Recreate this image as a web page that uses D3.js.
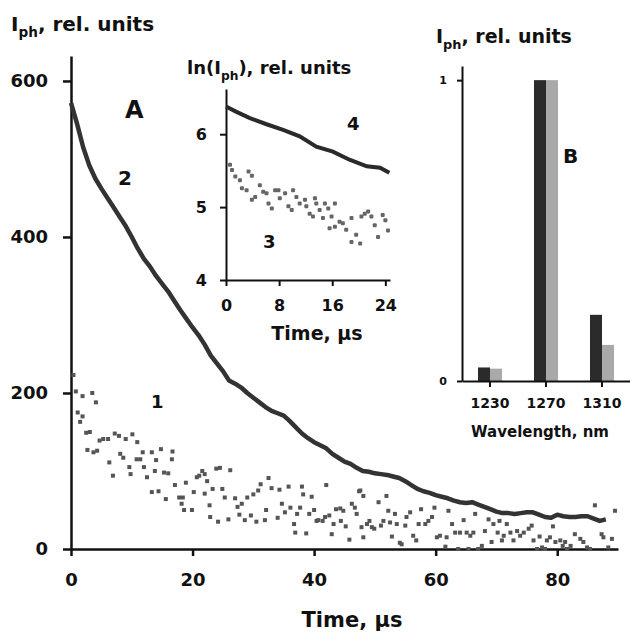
<!DOCTYPE html>
<html>
<head>
<meta charset="utf-8">
<script src="https://cdn.jsdelivr.net/npm/d3@7"></script>
<style>
  body { margin: 0; background: #fff; }
  svg text { font-family: "DejaVu Sans", sans-serif; font-weight: bold; fill: #111; }
</style>
</head>
<body>
<div id="chart"></div>
<script>
// ---- panel A, curve 2 (1 us steps) ----
var curve2T = d3.range(0, 89);
var curve2V = [572, 545, 515, 492, 475, 462, 450, 438, 426, 414,
               400, 385, 372, 362, 350, 340, 330, 318, 306, 295,
               284, 274, 262, 248, 238, 228, 216, 212, 207, 200,
               194, 188, 182, 177, 174, 171, 164, 156, 148, 142,
               137, 133, 129, 122, 117, 112, 109, 104, 100, 99,
               97, 96, 95, 93, 91, 87, 82, 77, 74, 72,
               69, 67, 65, 62, 60, 59, 60, 57, 54, 51,
               48, 46, 46, 45, 46, 47, 47, 44, 41, 40,
               44, 42, 41, 41, 42, 42, 39, 36, 38];

// ---- panel A, scatter 1 ----
var scat1T = [0.4, 0.8, 1.9, 3.5, 4.1, 1.1, 1.9, 1.5, 3.1, 2.5, 2.7, 3.7, 4.3, 4.7, 5.3, 6.1, 7.2, 7.9, 9.0, 10.1,
              10.9, 6.3, 6.9, 8.1, 8.6, 9.6, 9.8, 10.8, 11.4, 11.8, 12.0, 12.5, 13.3, 14.0, 13.8, 14.8, 13.3, 14.4, 15.3, 16.0,
              16.6, 16.7, 15.6, 17.1, 17.8, 18.4, 18.6, 18.9, 19.9, 20.2, 20.7, 21.1, 21.6, 22.0, 22.4, 22.0, 23.3, 22.9, 24.2, 23.9,
              24.5, 24.9, 25.3, 26.2, 25.9, 27.0, 27.4, 27.7, 28.1, 28.6, 29.0, 29.6, 30.5, 30.0, 30.8, 31.2, 31.9, 32.1, 32.5, 33.0,
              34.0, 34.3, 34.7, 35.2, 35.8, 36.1, 36.9, 37.2, 37.7, 38.0, 38.2, 38.7, 39.2, 39.6, 40.7, 18.2, 22.8, 36.7, 40.0, 40.4,
              42.0, 41.4, 41.8, 42.5, 42.9, 43.2, 43.6, 44.3, 44.4, 44.8, 45.2, 45.8, 46.2, 46.7, 47.0, 47.4, 48.1, 48.1, 47.8, 48.7,
              49.1, 49.5, 49.9, 50.6, 51.0, 51.4, 51.9, 52.2, 52.5, 52.8, 53.3, 53.6, 54.1, 54.4, 55.0, 55.2, 55.8, 56.3, 56.8, 57.2,
              57.6, 58.3, 58.8, 59.4, 59.8, 60.2, 60.7, 61.6, 61.8, 62.1, 62.7, 63.2, 63.7, 64.0, 64.6, 65.1, 65.4, 65.7, 66.2, 66.5,
              67.0, 67.6, 68.1, 68.7, 69.2, 69.5, 70.2, 70.5, 70.9, 71.2, 71.7, 72.3, 72.8, 73.4, 73.9, 74.5, 75.3, 75.8, 76.1, 76.7,
              77.1, 77.5, 78.0, 78.3, 78.8, 79.3, 79.7, 80.5, 80.9, 81.3, 81.6, 82.2, 82.9, 83.8, 84.3, 84.9, 85.4, 86.2, 87.3, 87.6,
              88.4, 89.0, 89.5, 47.6];
var scat1V = [223, 202, 196, 200, 188, 175, 170, 163, 150, 149, 127, 124, 126, 139, 141, 141, 148, 145, 141, 147,
              137, 111, 94, 122, 117, 105, 96, 115, 115, 124, 105, 92, 124, 114, 100, 128, 73, 74, 98, 97,
              115, 125, 64, 82, 66, 66, 50, 85, 50, 73, 92, 94, 100, 96, 87, 71, 77, 41, 35, 103,
              104, 77, 66, 101, 38, 65, 54, 44, 58, 37, 66, 43, 35, 70, 75, 83, 37, 50, 91, 78,
              40, 76, 58, 47, 80, 53, 21, 45, 53, 80, 70, 20, 45, 67, 37, 58, 56, 32, 50, 36,
              82, 36, 41, 43, 19, 32, 51, 52, 36, 49, 29, 12, 58, 53, 45, 74, 68, 15, 28, 32,
              36, 28, 26, 60, 30, 36, 68, 49, 34, 16, 45, 32, 8, 6, 30, 41, 47, 17, 11, 32,
              51, 32, 36, 41, 53, 15, 17, 3, 15, 49, 32, 21, 0, 21, 37, 21, 0, 17, 21, 45,
              0, 4, 23, 38, 9, 32, 21, 36, 11, 17, 32, 21, 11, 23, 17, 21, 26, 30, 11, 0,
              16, 2, 0, 11, 15, 29, 9, 11, 4, 9, 0, 4, 19, 13, 9, 2, 0, 56, 19, 15,
              2, 13, 49, 75];

// ---- inset, ln(Iph) ----
var curve4T = [0, 1.5, 3.6, 6, 8.6, 11.1, 13.6, 16.1, 18.6, 21.2, 23.2, 24.6];
var curve4V = [6.38, 6.31, 6.22, 6.14, 6.06, 5.97, 5.83, 5.76, 5.65, 5.56, 5.54, 5.47];
var scat3T = [0.6, 0.9, 1.4, 2.1, 3.4, 3.9, 2.4, 3.1, 3.9, 4.4, 5.1, 5.6, 6.1, 6.4, 6.9, 7.4, 7.9, 8.1, 8.9, 9.4,
              9.9, 10.1, 10.6, 11.1, 11.9, 12.1, 12.6, 13.4, 13.6, 13.1, 14.1, 14.6, 14.9, 15.4, 15.9, 16.4, 15.6, 16.4, 17.1, 17.6,
              18.1, 18.9, 18.9, 19.6, 20.2, 20.4, 20.9, 21.4, 21.9, 22.4, 22.9, 23.6, 24.4, 24.0];
var scat3V = [5.58, 5.51, 5.42, 5.37, 5.49, 5.43, 5.26, 5.23, 5.10, 5.14, 5.30, 5.21, 5.19, 5.05, 4.98, 5.23, 5.23, 5.12, 5.19, 5.01,
              4.96, 5.23, 5.14, 5.05, 5.10, 5.01, 4.91, 5.12, 5.05, 4.87, 4.96, 4.85, 5.05, 4.98, 4.87, 5.05, 4.71, 4.73, 4.80, 4.78,
              4.69, 4.85, 4.52, 4.62, 4.50, 4.87, 4.91, 4.94, 4.87, 4.75, 4.59, 4.89, 4.68, 4.82];

// ---- panel B ----
var wavelengths = ["1230", "1270", "1310"];
var barDark = [0.045, 1.0, 0.22];
var barLight = [0.041, 1.0, 0.12];

var width = 630, height = 632;

var svg = d3.select("#chart").append("svg")
    .attr("width", width)
    .attr("height", height);

function styleAxis(g, lw, fs) {
    g.selectAll("path.domain").attr("stroke", "#111").attr("stroke-width", lw);
    g.selectAll(".tick line").attr("stroke", "#111").attr("stroke-width", lw);
    g.selectAll(".tick text").attr("font-size", fs).attr("font-family", "DejaVu Sans").attr("font-weight", "bold").attr("fill", "#111");
}

function iph(sel, prefix, suffix) {
    if (prefix) sel.append("tspan").text(prefix);
    sel.append("tspan").text("I");
    sel.append("tspan").attr("dy", 6).attr("font-size", "68%").text("ph");
    sel.append("tspan").attr("dy", -6).text(suffix);
}

// ================= panel A =================
var x = d3.scaleLinear().domain([0, 90]).range([71, 618]);
var y = d3.scaleLinear().domain([0, 632]).range([549, 56]);

svg.append("g")
    .attr("transform", "translate(0," + y(0) + ")")
    .call(d3.axisBottom(x).tickValues([0, 20, 40, 60, 80]).tickSize(7).tickSizeOuter(0).tickPadding(17))
    .call(styleAxis, 2.5, 18);

svg.append("g")
    .attr("transform", "translate(" + x(0) + ",0)")
    .call(d3.axisLeft(y).tickValues([0, 200, 400, 600]).tickSize(8).tickSizeOuter(0).tickPadding(15))
    .call(styleAxis, 2.5, 18);

svg.append("g").selectAll("rect")
    .data(scat1T.map(function(t, i) { return [t, scat1V[i]]; }))
    .enter().append("rect")
    .attr("x", function(d) { return x(d[0]) - 2; })
    .attr("y", function(d) { return y(d[1]) - 2; })
    .attr("width", 4).attr("height", 4)
    .attr("fill", "#555");

var line2 = d3.line()
    .x(function(d) { return x(d[0]); })
    .y(function(d) { return y(d[1]); });

svg.append("path")
    .datum(curve2T.map(function(t, i) { return [t, curve2V[i]]; }))
    .attr("d", line2)
    .attr("fill", "none")
    .attr("stroke", "#333")
    .attr("stroke-width", 4.5)
    .attr("stroke-linejoin", "round");

iph(svg.append("text").attr("x", 11).attr("y", 31).attr("font-size", 20), "", ", rel. units");
svg.append("text").attr("x", 352).attr("y", 627).attr("text-anchor", "middle").attr("font-size", 21).text("Time, \u00b5s");
svg.append("text").attr("x", 125).attr("y", 118).attr("font-size", 24).text("A");
svg.append("text").attr("x", 118).attr("y", 185).attr("font-size", 20).text("2");
svg.append("text").attr("x", 151).attr("y", 408).attr("font-size", 18).text("1");

// ================= inset =================
var xi = d3.scaleLinear().domain([0, 24.7]).range([226, 390]);
var yi = d3.scaleLinear().domain([4, 6.62]).range([280, 89]);

svg.append("g")
    .attr("transform", "translate(0," + yi(4) + ")")
    .call(d3.axisBottom(xi).tickValues([0, 8, 16, 24]).tickFormat(d3.format("d")).tickSize(6).tickSizeOuter(0).tickPadding(14))
    .call(styleAxis, 2, 16);

svg.append("g")
    .attr("transform", "translate(" + xi(0) + ",0)")
    .call(d3.axisLeft(yi).tickValues([4, 5, 6]).tickFormat(d3.format("d")).tickSize(6).tickSizeOuter(0).tickPadding(13))
    .call(styleAxis, 2, 16);

svg.append("g").selectAll("rect")
    .data(scat3T.map(function(t, i) { return [t, scat3V[i]]; }))
    .enter().append("rect")
    .attr("x", function(d) { return xi(d[0]) - 2; })
    .attr("y", function(d) { return yi(d[1]) - 2; })
    .attr("width", 4).attr("height", 4).attr("rx", 1)
    .attr("fill", "#666");

svg.append("path")
    .datum(curve4T.map(function(t, i) { return [t, curve4V[i]]; }))
    .attr("d", d3.line().x(function(d) { return xi(d[0]); }).y(function(d) { return yi(d[1]); }))
    .attr("fill", "none")
    .attr("stroke", "#2a2a2a")
    .attr("stroke-width", 4);

iph(svg.append("text").attr("x", 187).attr("y", 74).attr("font-size", 18), "ln(", "), rel. units");
svg.append("text").attr("x", 317).attr("y", 340).attr("text-anchor", "middle").attr("font-size", 19).text("Time, \u00b5s");
svg.append("text").attr("x", 347).attr("y", 130).attr("font-size", 18).text("4");
svg.append("text").attr("x", 263).attr("y", 248).attr("font-size", 18).text("3");

// ================= panel B =================
var xb = d3.scaleBand().domain(wavelengths).range([462, 630]);
var xsub = d3.scaleBand().domain(["dark", "light"]).range([-12, 12]);
var yb = d3.scaleLinear().domain([0, 1.047]).range([381, 66]);

var groups = svg.append("g").selectAll("g")
    .data(wavelengths.map(function(w, i) { return {w: w, dark: barDark[i], light: barLight[i]}; }))
    .enter().append("g")
    .attr("transform", function(d) { return "translate(" + (xb(d.w) + xb.bandwidth() / 2) + ",0)"; });

groups.selectAll("rect")
    .data(function(d) { return [{k: "dark", v: d.dark}, {k: "light", v: d.light}]; })
    .enter().append("rect")
    .attr("x", function(d) { return xsub(d.k); })
    .attr("width", xsub.bandwidth())
    .attr("y", function(d) { return yb(d.v); })
    .attr("height", function(d) { return yb(0) - yb(d.v); })
    .attr("fill", function(d) { return d.k === "dark" ? "#2b2b2b" : "#a9a9a9"; });

svg.append("g")
    .attr("transform", "translate(0," + yb(0) + ")")
    .call(d3.axisBottom(xb).tickSize(6).tickSizeOuter(0).tickPadding(11))
    .call(styleAxis, 2, 14);

svg.append("g")
    .attr("transform", "translate(" + xb.range()[0] + ",0)")
    .call(d3.axisLeft(yb).tickValues([0, 1]).tickFormat(d3.format("d")).tickSize(5).tickSizeOuter(0).tickPadding(10))
    .call(styleAxis, 2, 11);

iph(svg.append("text").attr("x", 436).attr("y", 43).attr("font-size", 19), "", ", rel. units");
svg.append("text").attr("x", 540).attr("y", 437).attr("text-anchor", "middle").attr("font-size", 15).text("Wavelength, nm");
svg.append("text").attr("x", 563).attr("y", 163).attr("font-size", 20).text("B");
</script>
</body>
</html>
